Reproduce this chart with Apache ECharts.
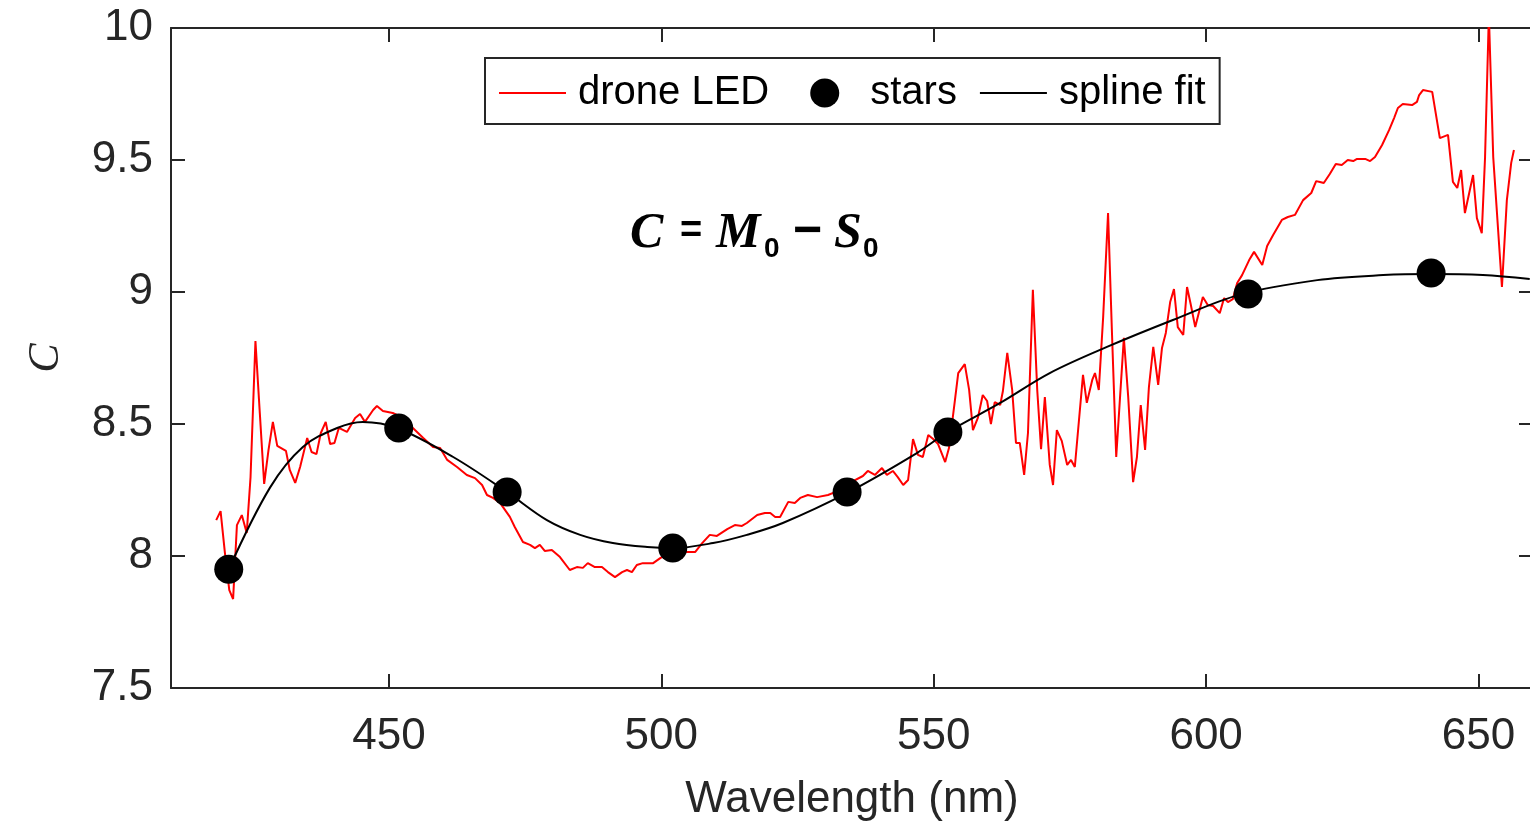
<!DOCTYPE html>
<html>
<head>
<meta charset="utf-8">
<script src="https://cdn.jsdelivr.net/npm/echarts@6/dist/echarts.min.js"></script>
<style>
html,body{margin:0;padding:0;background:#fff;}
#chart{width:1530px;height:826px;}
</style>
</head>
<body>
<div id="chart"></div>
<script>
// ---- data ----
const ledWavelength = [418.3,419.1,419.9,420.7,421.4,422.1,423.0,423.9,424.6,425.5,426.3,427.1,427.9,428.7,429.5,431.1,431.8,432.8,433.7,435.0,435.8,436.7,437.5,438.4,439.2,440.0,440.8,442.3,443.8,444.7,445.6,447.1,447.8,448.9,450.7,452.6,454.4,456.3,458.1,459.4,460.7,462.5,464.3,465.8,467.1,468.0,469.1,470.4,472.2,473.1,474.6,475.9,476.8,477.7,478.6,479.9,481.4,483.2,484.5,485.6,486.5,487.8,489.1,490.2,491.5,492.8,493.7,494.6,495.5,496.6,498.5,499.8,501.6,503.4,504.7,506.2,507.5,508.9,510.2,512.1,513.5,514.8,515.7,517.6,519.0,520.0,520.9,521.8,523.3,524.5,525.5,526.9,528.6,530.6,531.9,533.2,534.6,537.0,537.9,539.2,540.5,541.4,542.5,543.4,544.4,545.3,546.2,547.1,548.0,549.0,549.9,550.8,552.1,552.8,553.9,554.5,555.7,556.5,557.2,558.1,559.0,559.8,560.5,561.2,562.2,562.7,563.5,564.4,565.1,565.8,566.6,567.3,568.2,569.0,569.7,570.4,571.3,571.9,572.6,573.5,574.5,575.2,575.9,577.4,578.1,579.1,579.6,580.3,581.1,582.0,582.7,583.5,584.2,584.9,585.7,586.6,587.3,588.0,588.8,589.5,590.3,591.2,591.9,592.6,593.4,594.1,594.8,595.8,596.5,597.2,598.0,598.7,599.4,600.3,601.3,602.5,603.3,604.0,604.9,605.7,606.6,607.9,608.8,610.3,611.2,612.3,613.9,615.0,616.3,617.8,619.3,620.2,620.9,621.6,622.7,623.8,624.9,626.0,627.0,627.7,629.2,630.1,631.0,632.3,633.6,634.5,635.2,636.1,637.8,638.7,639.1,639.8,641.5,642.9,644.4,645.3,646.1,646.8,647.5,649.0,649.7,650.6,651.2,651.9,652.7,654.3,655.2,656.0,656.5];
const ledValues = [8.136,8.170,8.011,7.871,7.837,8.117,8.155,8.087,8.299,8.814,8.542,8.273,8.402,8.508,8.417,8.398,8.326,8.277,8.337,8.447,8.394,8.386,8.466,8.508,8.424,8.428,8.485,8.470,8.523,8.538,8.508,8.553,8.568,8.549,8.542,8.523,8.485,8.447,8.413,8.409,8.364,8.337,8.307,8.295,8.269,8.231,8.220,8.201,8.148,8.110,8.053,8.042,8.030,8.042,8.019,8.023,7.996,7.947,7.958,7.955,7.973,7.958,7.958,7.939,7.920,7.939,7.947,7.939,7.966,7.973,7.973,7.992,8.015,8.030,8.015,8.015,8.049,8.080,8.076,8.102,8.117,8.114,8.125,8.155,8.163,8.163,8.148,8.148,8.205,8.201,8.220,8.231,8.223,8.231,8.242,8.261,8.277,8.303,8.322,8.307,8.333,8.307,8.322,8.299,8.269,8.288,8.443,8.383,8.375,8.458,8.443,8.424,8.356,8.409,8.591,8.693,8.727,8.629,8.477,8.523,8.610,8.587,8.500,8.583,8.572,8.625,8.769,8.629,8.428,8.428,8.307,8.466,9.008,8.629,8.405,8.602,8.345,8.269,8.477,8.436,8.345,8.364,8.337,8.686,8.580,8.667,8.693,8.629,8.905,9.299,8.856,8.375,8.602,8.826,8.602,8.280,8.375,8.572,8.402,8.640,8.792,8.648,8.788,8.845,8.962,9.011,8.867,8.837,9.019,8.951,8.867,8.924,8.981,8.951,8.947,8.920,8.977,8.962,8.973,9.034,9.064,9.121,9.152,9.102,9.174,9.216,9.273,9.284,9.292,9.348,9.375,9.420,9.417,9.413,9.447,9.485,9.481,9.500,9.496,9.504,9.504,9.496,9.511,9.557,9.614,9.659,9.697,9.712,9.708,9.720,9.746,9.765,9.758,9.583,9.595,9.417,9.394,9.462,9.299,9.443,9.280,9.223,9.511,10.05,9.511,9.019,9.348,9.489,9.538];

const starWavelength = [420.6,451.8,471.7,502.1,534.1,552.6,607.7,641.3];
const starValues = [7.95,8.485,8.242,8.03,8.242,8.47,8.992,9.072];

const splineWavelength = [420.6,428.2,434.2,440.5,445.2,451.5,461.8,471.7,479.0,485.1,491.1,497.4,502.1,509.5,515.7,522.3,534.1,546.9,552.6,562.2,571.3,581.8,593.9,606.2,620.4,632.5,641.3,650.8,659.4];
const splineValues = [7.95,8.26,8.413,8.485,8.508,8.485,8.375,8.242,8.136,8.08,8.049,8.034,8.03,8.049,8.08,8.125,8.239,8.39,8.47,8.58,8.693,8.792,8.894,8.99,9.045,9.064,9.068,9.064,9.049];

const xTickValues = [450,500,550,600,650];
const seriesNames = ['drone LED','stars','spline fit'];

// ---- chart ----
const AX = '#262626';
const pair = (xs, ys) => xs.map((x, i) => [x, ys[i]]);
const chart = echarts.init(document.getElementById('chart'), null, {renderer: 'canvas'});

const axisLineStyle = {lineStyle: {color: AX, width: 2}};
const tickStyle = {inside: true, length: 14, lineStyle: {color: AX, width: 2}};
// legend marker for "stars": a dot centred in a 67x29 icon box
const dotIcon = 'path://M0,0 M67,29 M19,14.5 A14.5,14.5 0 1,1 48,14.5 A14.5,14.5 0 1,1 19,14.5 Z';

chart.setOption({
  animation: false,
  backgroundColor: '#ffffff',
  textStyle: {fontFamily: 'Liberation Sans'},
  grid: {left: 171, top: 28, right: -3, bottom: 138, containLabel: false, outerBoundsMode: 'none'},
  legend: {
    data: [
      {name: seriesNames[0], itemStyle: {opacity: 0}, lineStyle: {width: 2}},
      {name: seriesNames[1], icon: dotIcon},
      {name: seriesNames[2], itemStyle: {opacity: 0}, lineStyle: {width: 2}}
    ],
    left: 485, top: 58,
    orient: 'horizontal',
    itemWidth: 67, itemHeight: 29, itemGap: 22,
    padding: [15, 14, 11, 13],
    borderColor: AX, borderWidth: 2, backgroundColor: '#fff',
    textStyle: {fontSize: 40, color: '#000', fontFamily: 'Liberation Sans', padding: [0, 0, 0, 7]}
  },
  xAxis: [{
    type: 'value', min: 410, max: 660, position: 'bottom',
    axisLine: axisLineStyle,
    axisTick: Object.assign({customValues: xTickValues}, tickStyle),
    axisLabel: {customValues: xTickValues, fontSize: 44, color: AX, margin: 27, fontFamily: 'Liberation Sans'},
    splitLine: {show: false},
    name: 'Wavelength (nm)', nameLocation: 'middle', nameGap: 90,
    nameTextStyle: {fontSize: 44, color: AX, fontFamily: 'Liberation Sans'}
  }, {
    type: 'value', min: 410, max: 660, position: 'top',
    axisLine: axisLineStyle,
    axisTick: Object.assign({customValues: xTickValues}, tickStyle),
    axisLabel: {show: false},
    splitLine: {show: false}
  }],
  yAxis: [{
    type: 'value', min: 7.5, max: 10, interval: 0.5, position: 'left',
    axisLine: axisLineStyle,
    axisTick: tickStyle,
    axisLabel: {fontSize: 44, color: AX, margin: 18, fontFamily: 'Liberation Sans'},
    splitLine: {show: false},
    name: 'C', nameLocation: 'middle', nameRotate: 90, nameGap: 103,
    nameTextStyle: {fontSize: 44, color: AX, fontFamily: 'Liberation Serif', fontStyle: 'italic'}
  }, {
    type: 'value', min: 7.5, max: 10, interval: 0.5, position: 'right',
    axisLine: axisLineStyle,
    axisTick: tickStyle,
    axisLabel: {show: false},
    splitLine: {show: false}
  }],
  series: [{
    name: 'drone LED', type: 'line',
    data: pair(ledWavelength, ledValues),
    symbol: 'none', showSymbol: false,
    lineStyle: {color: '#ff0000', width: 2},
    itemStyle: {color: '#ff0000'},
    z: 2, clip: true
  }, {
    name: 'stars', type: 'scatter',
    data: pair(starWavelength, starValues),
    symbol: 'circle', symbolSize: 29,
    itemStyle: {color: '#000', opacity: 1},
    z: 4
  }, {
    name: 'spline fit', type: 'line',
    data: pair(splineWavelength, splineValues),
    symbol: 'none', showSymbol: false, smooth: 0.35,
    lineStyle: {color: '#000', width: 2},
    itemStyle: {color: '#000'},
    z: 3, clip: true
  }],
  graphic: [{
    type: 'group', z: 10,
    children: [
      {type: 'text', x: 630, y: 234, style: {text: 'C', fontFamily: 'Liberation Serif', fontStyle: 'italic', fontWeight: 'bold', fontSize: 50, fill: '#000', verticalAlign: 'middle', align: 'left'}},
      {type: 'text', x: 680, y: 232, style: {text: '=', fontFamily: 'Liberation Sans', fontWeight: 'bold', fontSize: 38, fill: '#000', verticalAlign: 'middle', align: 'left'}},
      {type: 'text', x: 716, y: 234, style: {text: 'M', fontFamily: 'Liberation Serif', fontStyle: 'italic', fontWeight: 'bold', fontSize: 50, fill: '#000', verticalAlign: 'middle', align: 'left'}},
      {type: 'text', x: 764, y: 249, style: {text: '0', fontFamily: 'Liberation Sans', fontWeight: 'bold', fontSize: 28, fill: '#000', verticalAlign: 'middle', align: 'left'}},
      {type: 'text', x: 793, y: 232, style: {text: '\u2212', fontFamily: 'Liberation Sans', fontWeight: 'bold', fontSize: 50, fill: '#000', verticalAlign: 'middle', align: 'left'}},
      {type: 'text', x: 834, y: 234, style: {text: 'S', fontFamily: 'Liberation Serif', fontStyle: 'italic', fontWeight: 'bold', fontSize: 50, fill: '#000', verticalAlign: 'middle', align: 'left'}},
      {type: 'text', x: 863, y: 249, style: {text: '0', fontFamily: 'Liberation Sans', fontWeight: 'bold', fontSize: 28, fill: '#000', verticalAlign: 'middle', align: 'left'}}
    ]
  }]
});
</script>
</body>
</html>
